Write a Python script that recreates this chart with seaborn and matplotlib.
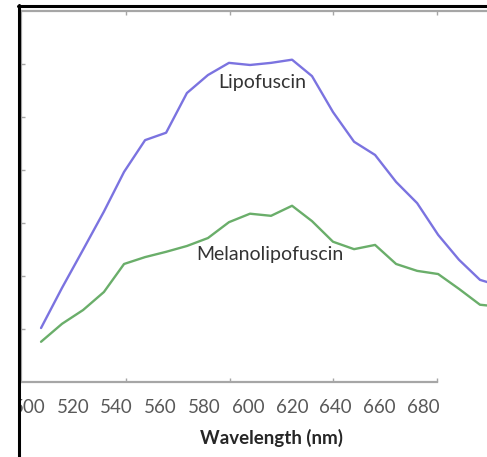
import numpy as np
import pandas as pd
import matplotlib
matplotlib.use("Agg")
import matplotlib.pyplot as plt
from matplotlib.lines import Line2D
from matplotlib.patches import Rectangle
import seaborn as sns

# -------------------------------------------------
# Data
# -------------------------------------------------
wavelength = [505.5, 515.1, 524.7, 534.2, 543.4, 553.0, 562.6, 572.1,
              581.7, 591.3, 600.9, 610.5, 620.1, 629.2, 638.8, 648.4,
              658.0, 667.6, 677.2, 686.8, 696.3, 705.9, 715.4]
lipofuscin = [1.02, 1.78, 2.50, 3.22, 3.97, 4.57, 4.71, 5.46, 5.80, 6.03,
              5.99, 6.03, 6.09, 5.78, 5.10, 4.54, 4.29, 3.78, 3.38, 2.78,
              2.31, 1.93, 1.81]
melanolipofuscin = [0.76, 1.10, 1.36, 1.70, 2.23, 2.36, 2.46, 2.57, 2.72,
                    3.02, 3.18, 3.14, 3.33, 3.04, 2.65, 2.51, 2.59, 2.23,
                    2.10, 2.04, 1.76, 1.46, 1.42]
x_tick_values = [500, 520, 540, 560, 580, 600, 620, 640, 660, 680]
series_names = ["Lipofuscin", "Melanolipofuscin"]
series_colors = {"Lipofuscin": "#7b73e0", "Melanolipofuscin": "#6aae6a"}

df = pd.DataFrame({
    "wavelength": wavelength * 2,
    "intensity": lipofuscin + melanolipofuscin,
    "pigment": [series_names[0]] * len(wavelength)
               + [series_names[1]] * len(wavelength),
})

# -------------------------------------------------
# Figure
# -------------------------------------------------
sns.set_theme(style="white")
plt.rcParams["font.family"] = ["Lato", "DejaVu Sans"]

fig = plt.figure(figsize=(4.87, 4.57), dpi=100)
ax = fig.add_axes([21 / 487, 75 / 457, 466 / 487, 371 / 457])

sns.lineplot(
    data=df, x="wavelength", y="intensity", hue="pigment",
    palette=series_colors, linewidth=1.7, legend=False, ax=ax,
    estimator=None, sort=False,
)

ax.set_xlim(496.35, 709.1)
ax.set_ylim(0, 7.01)

spine_col = "#a6a6a6"
for side in ["left", "top", "bottom"]:
    ax.spines[side].set_color(spine_col)
    ax.spines[side].set_linewidth(1.6)
ax.spines["right"].set_visible(False)
ax.spines["bottom"].set_bounds(496.35, 686.3)

ax.set_xticks(x_tick_values)
ax.set_xticklabels([str(v) for v in x_tick_values])
ax.set_xticks([544.3, 591.8, 638.8, 686.3], minor=True)
ax.set_yticks([1, 2, 3, 4, 5, 6])
ax.set_yticklabels([])
ax.tick_params(axis="x", which="major", length=0, pad=12,
               labelsize=13.5, labelcolor="#595959")
ax.tick_params(axis="x", which="minor", direction="in", length=3,
               width=1, color=spine_col, top=True, bottom=True)
ax.tick_params(axis="y", which="major", direction="in", length=3,
               width=1, color=spine_col, left=True)

ax.set_xlabel("Wavelength (nm)", fontsize=13.5, fontweight="bold",
              color="#262626")
ax.xaxis.label.set_va("center")
ax.xaxis.set_label_coords((271 - 21) / 466, -56 / 371)
ax.set_ylabel("")

ax.text(606.4, 5.65, "Lipofuscin", ha="center", va="center",
        fontsize=14, color="#333333")
ax.text(610.0, 2.40, "Melanolipofuscin", ha="center", va="center",
        fontsize=14, color="#333333")

# black frame of the original panel
fig.add_artist(Rectangle((0, 0), 18 / 487, 1, transform=fig.transFigure,
                         facecolor="white", edgecolor="none", zorder=9))
fig.add_artist(Line2D([18.5 / 487, 18.5 / 487], [0, 1 - 5 / 457],
                      transform=fig.transFigure, color="black",
                      linewidth=2.2, zorder=10))
fig.add_artist(Line2D([18 / 487, 1], [1 - 6 / 457, 1 - 6 / 457],
                      transform=fig.transFigure, color="black",
                      linewidth=2.2, zorder=10))

fig.savefig("out.png", dpi=100)
plt.close(fig)
